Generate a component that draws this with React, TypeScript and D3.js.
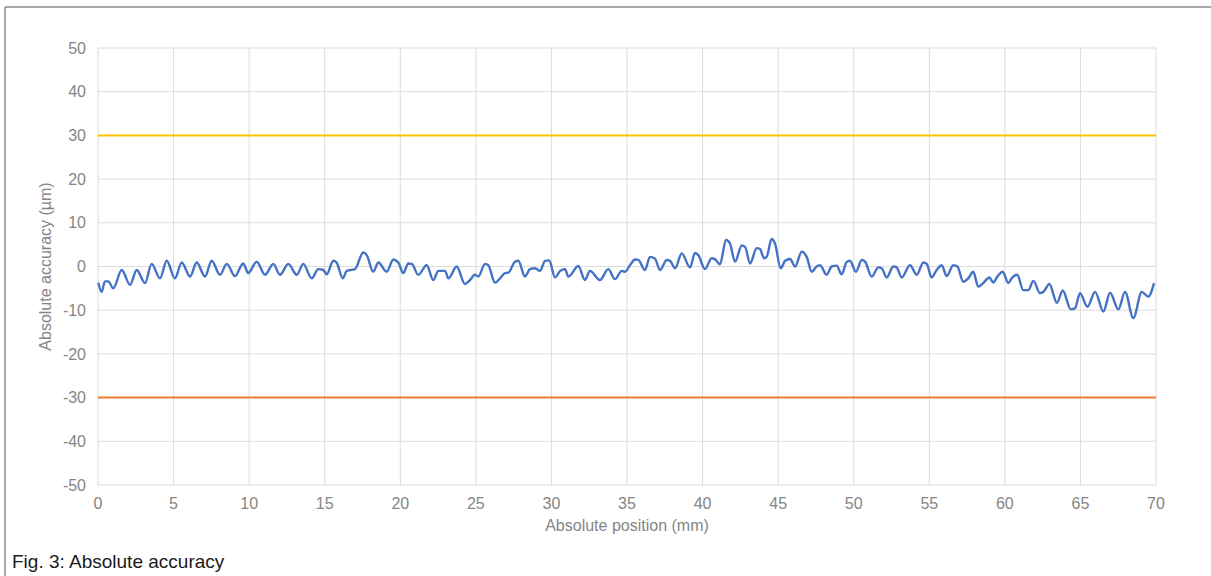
import React from "react";
import * as d3 from "d3";

const positions: number[] = [
  0.02, 0.24, 0.46, 0.68, 1.01, 1.57, 2.12, 2.56, 3.11, 3.55, 4.10, 4.55, 5.09, 5.54, 6.09, 6.53, 7.08, 7.52, 8.07, 8.52, 9.06, 9.61,
  9.94, 10.50, 11.05, 11.60, 12.04, 12.59, 13.15, 13.58, 14.14, 14.58, 14.91, 15.13, 15.57, 15.79, 16.19, 16.46, 17.00, 17.55, 17.78,
  18.21, 18.55, 19.10, 19.54, 19.87, 20.20, 20.53, 20.76, 21.19, 21.75, 22.18, 22.52, 22.96, 23.18, 23.73, 24.28, 24.61, 24.94, 25.16,
  25.61, 25.82, 26.27, 26.60, 26.93, 27.15, 27.59, 27.81, 28.25, 28.58, 28.91, 29.24, 29.58, 29.85,
  30.24, 30.58, 30.90, 31.12, 31.78, 32.22, 32.55, 33.21, 33.76, 34.21, 34.65, 34.87, 35.20, 35.53, 35.75, 36.19, 36.52, 36.85, 37.18,
  37.63, 37.85, 38.18, 38.62, 39.17, 39.50, 39.72,
  40.16, 40.60, 40.82, 41.15, 41.55, 41.81, 42.15, 42.59, 42.81, 43.14, 43.58, 43.80, 44.07, 44.24, 44.57, 44.79, 45.17, 45.46, 45.79,
  46.12, 46.56, 46.89, 47.22, 47.55, 47.77, 48.21, 48.54, 48.87, 49.20, 49.53, 49.75,
  50.15, 50.53, 50.75, 51.19, 51.63, 51.85, 52.18, 52.62, 52.84, 53.18, 53.72, 54.17, 54.61, 54.83, 55.16, 55.49, 55.82, 56.15, 56.59,
  56.86, 57.25, 57.58, 57.91, 58.24, 58.57, 58.97, 59.24, 59.46, 59.86,
  60.23, 60.45, 60.82, 61.22, 61.55, 61.89, 62.33, 62.55, 62.95, 63.44, 63.83, 64.36, 64.64, 64.97, 65.46, 65.97, 66.52, 66.96, 67.51,
  67.95, 68.50, 69.06, 69.49, 69.87,
];

const accuracy: number[] = [
  -3.7, -5.8, -3.4, -3.4, -5.0, -0.8, -4.2, -0.8, -3.8, 0.6, -2.7, 1.3, -2.7, 0.9, -2.3, 0.9, -2.3, 1.3, -1.9, 0.6, -2.2, 0.7,
  -1.5, 1.1, -1.9, 0.6, -1.9, 0.6, -1.9, 0.6, -2.7, -0.6, -0.8, -1.8, 1.3, 0.9, -2.7, -1.0, -0.6, 3.2, 2.6,
  -1.2, 0.9, -1.2, 1.6, 0.9, -1.5, 0.7, 0.6, -1.9, 0.3, -3.1, -1.0, -1.0, -2.7, 0.0, -4.0, -3.1, -1.9, -2.3,
  0.6, 0.3, -3.7, -2.7, -1.5, -1.4, 1.1, 1.3, -2.3, -0.6, -0.4, -1.0, 1.3, 1.4,
  -2.5, -1.0, -0.6, -2.3, 0.1, -3.1, -1.0, -3.1, -0.6, -2.9, -1.0, -1.2, 0.3, 1.6, 1.5, -0.8, 2.2, 1.8, -0.8,
  1.5, 1.3, -0.4, 3.0, -0.2, 3.1, 2.6,
  -0.6, 1.9, 1.7, 0.5, 6.1, 5.3, 1.1, 4.8, 4.5, 0.7, 4.2, 4.0, 1.9, 2.2, 6.3, 5.3, -0.4, 1.3, 1.7,
  0.0, 3.4, 2.2, -1.2, 0.0, 0.3, -1.9, 0.0, 0.2, -1.8, 1.0, 1.3,
  -1.2, 1.5, 1.1, -2.3, -0.2, -0.4, -2.5, 0.0, -0.2, -2.5, 0.3, -1.9, 0.9, 0.6, -2.5, -0.8, 0.3, -2.2, 0.3,
  0.0, -3.5, -2.7, -1.2, -4.6, -3.8, -2.5, -3.7, -2.5, -1.2,
  -3.8, -2.7, -1.9, -5.4, -5.4, -3.3, -6.1, -5.8, -4.0, -8.3, -5.5, -9.8, -9.6, -6.1, -9.2, -5.8, -10.3, -6.0, -9.8,
  -5.8, -11.8, -5.8, -6.9, -3.8,
];

const xTicks: number[] = [0, 5, 10, 15, 20, 25, 30, 35, 40, 45, 50, 55, 60, 65, 70];
const yTicks: number[] = [50, 40, 30, 20, 10, 0, -10, -20, -30, -40, -50];
const upperLimit = 30;
const lowerLimit = -30;

const W = 1211;
const H = 576;
const left = 98;
const right = 1156;
const top = 48;
const bottom = 485;

export default function App() {
  const x = d3.scaleLinear().domain([0, 70]).range([left, right]);
  const y = d3.scaleLinear().domain([-50, 50]).range([bottom, top]);
  const pts: [number, number][] = positions.map((p, i) => [p, accuracy[i]]);
  const line = d3
    .line<[number, number]>()
    .x((d) => x(d[0]))
    .y((d) => y(d[1]))
    .curve(d3.curveMonotoneX);
  const font = "'Liberation Sans', Arial, Helvetica, sans-serif";
  const grey = "#858585";
  return (
    <svg
      width={W}
      height={H}
      style={{ position: "absolute", left: 0, top: 0, background: "#fff" }}
      fontFamily={font}
    >
      <rect x={0} y={0} width={W} height={H} fill="#fff" />
      <line x1={5} y1={7} x2={W} y2={7} stroke="#8c8c8c" strokeWidth={1.5} />
      <line x1={5} y1={7} x2={5} y2={H} stroke="#8c8c8c" strokeWidth={1.5} />
      {xTicks.map((t) => (
        <line key={"gx" + t} x1={x(t)} x2={x(t)} y1={top} y2={bottom} stroke="#dcdcdc" strokeWidth={1} />
      ))}
      {yTicks.map((t) => (
        <line key={"gy" + t} x1={left} x2={right} y1={y(t)} y2={y(t)} stroke="#dcdcdc" strokeWidth={1} />
      ))}
      <line x1={left} x2={right} y1={y(upperLimit)} y2={y(upperLimit)} stroke="#FFC000" strokeWidth={2} />
      <line x1={left} x2={right} y1={y(lowerLimit)} y2={y(lowerLimit)} stroke="#ED7D31" strokeWidth={2} />
      <path d={line(pts) || ""} fill="none" stroke="#4472C4" strokeWidth={2.4} strokeLinejoin="round" />
      {yTicks.map((t) => (
        <text key={"ly" + t} x={86} y={y(t)} dy="0.35em" textAnchor="end" fontSize={16} fill={grey}>
          {t}
        </text>
      ))}
      {xTicks.map((t) => (
        <text key={"lx" + t} x={x(t)} y={503} dy="0.35em" textAnchor="middle" fontSize={16} fill={grey}>
          {t}
        </text>
      ))}
      <text x={(left + right) / 2} y={525} dy="0.35em" textAnchor="middle" fontSize={16} fill={grey}>
        Absolute position (mm)
      </text>
      <text
        transform={`translate(45,${(top + bottom) / 2}) rotate(-90)`}
        textAnchor="middle"
        dy="0.35em"
        fontSize={16}
        fill={grey}
      >
        Absolute accuracy (µm)
      </text>
      <text x={12} y={568} fontSize={19} fill="#1a1a1a">
        Fig. 3: Absolute accuracy
      </text>
    </svg>
  );
}
